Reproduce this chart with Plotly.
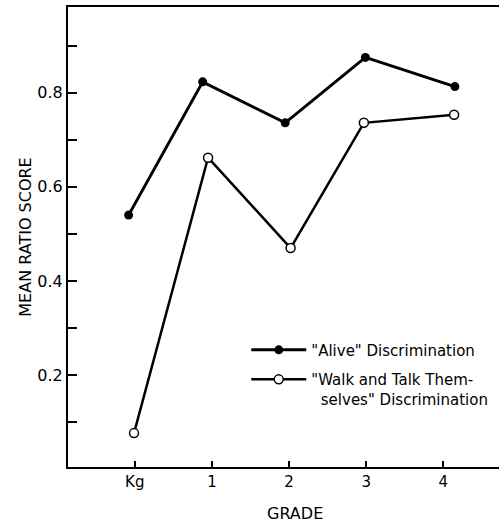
import plotly.graph_objects as go

# Data
grade_labels = ["Kg", "1", "2", "3", "4"]
grade_ticks = [0, 1, 2, 3, 4]

alive_x = [-0.08, 0.88, 1.95, 2.99, 4.15]
alive_y = [0.54, 0.823, 0.736, 0.875, 0.813]

walk_x = [-0.01, 0.95, 2.02, 2.97, 4.14]
walk_y = [0.077, 0.662, 0.470, 0.736, 0.753]

y_tickvals = [0.1, 0.2, 0.3, 0.4, 0.5, 0.6, 0.7, 0.8, 0.9]
y_ticktext = ["", "0.2", "", "0.4", "", "0.6", "", "0.8", ""]

FONT = "DejaVu Sans"

fig = go.Figure()
fig.add_trace(go.Scatter(
    x=alive_x, y=alive_y, mode="lines+markers",
    name='"Alive" Discrimination', legendgroup="alive",
    line=dict(color="black", width=3),
    marker=dict(symbol="circle", size=9, color="black"),
))
fig.add_trace(go.Scatter(
    x=walk_x, y=walk_y, mode="lines+markers",
    name='"Walk and Talk Them-<br>\u00a0\u00a0selves" Discrimination',
    legendgroup="walk",
    line=dict(color="black", width=2.5),
    marker=dict(symbol="circle", size=9, color="white",
                line=dict(color="black", width=1.5)),
))

fig.update_layout(
    width=499, height=522,
    margin=dict(l=68, r=0, t=7, b=55),
    paper_bgcolor="white", plot_bgcolor="white",
    font=dict(family=FONT, size=15, color="black"),
    showlegend=True,
    legend=dict(x=0.4136, y=0.29, xanchor="left", yanchor="top",
                bgcolor="rgba(0,0,0,0)", font=dict(size=15, family=FONT),
                itemwidth=55, tracegroupgap=7, valign="top"),
    xaxis=dict(
        range=[-0.866, 4.722], tickvals=grade_ticks, ticktext=grade_labels,
        showgrid=False, zeroline=False, showline=True, linecolor="black",
        linewidth=2, mirror=True, ticks="inside", ticklen=6, tickwidth=1.5,
        tickcolor="black", tickfont=dict(size=15),
    ),
    yaxis=dict(
        range=[0.005, 0.982], tickvals=y_tickvals, ticktext=y_ticktext,
        showgrid=False, zeroline=False, showline=True, linecolor="black",
        linewidth=2, ticks="inside", ticklen=9, tickwidth=1.5,
        tickcolor="black", title=dict(text="MEAN RATIO SCORE", standoff=2,
                                       font=dict(size=16)),
        tickfont=dict(size=16),
    ),
    annotations=[dict(text="GRADE", xref="paper", yref="paper",
                      x=0.527, y=-0.1, xanchor="center", yanchor="middle",
                      showarrow=False, font=dict(size=16, family=FONT))],
)

fig.write_html("out.html", config={"displayModeBar": False},
               post_script="document.body.style.margin='0';document.body.style.overflow='hidden';")
